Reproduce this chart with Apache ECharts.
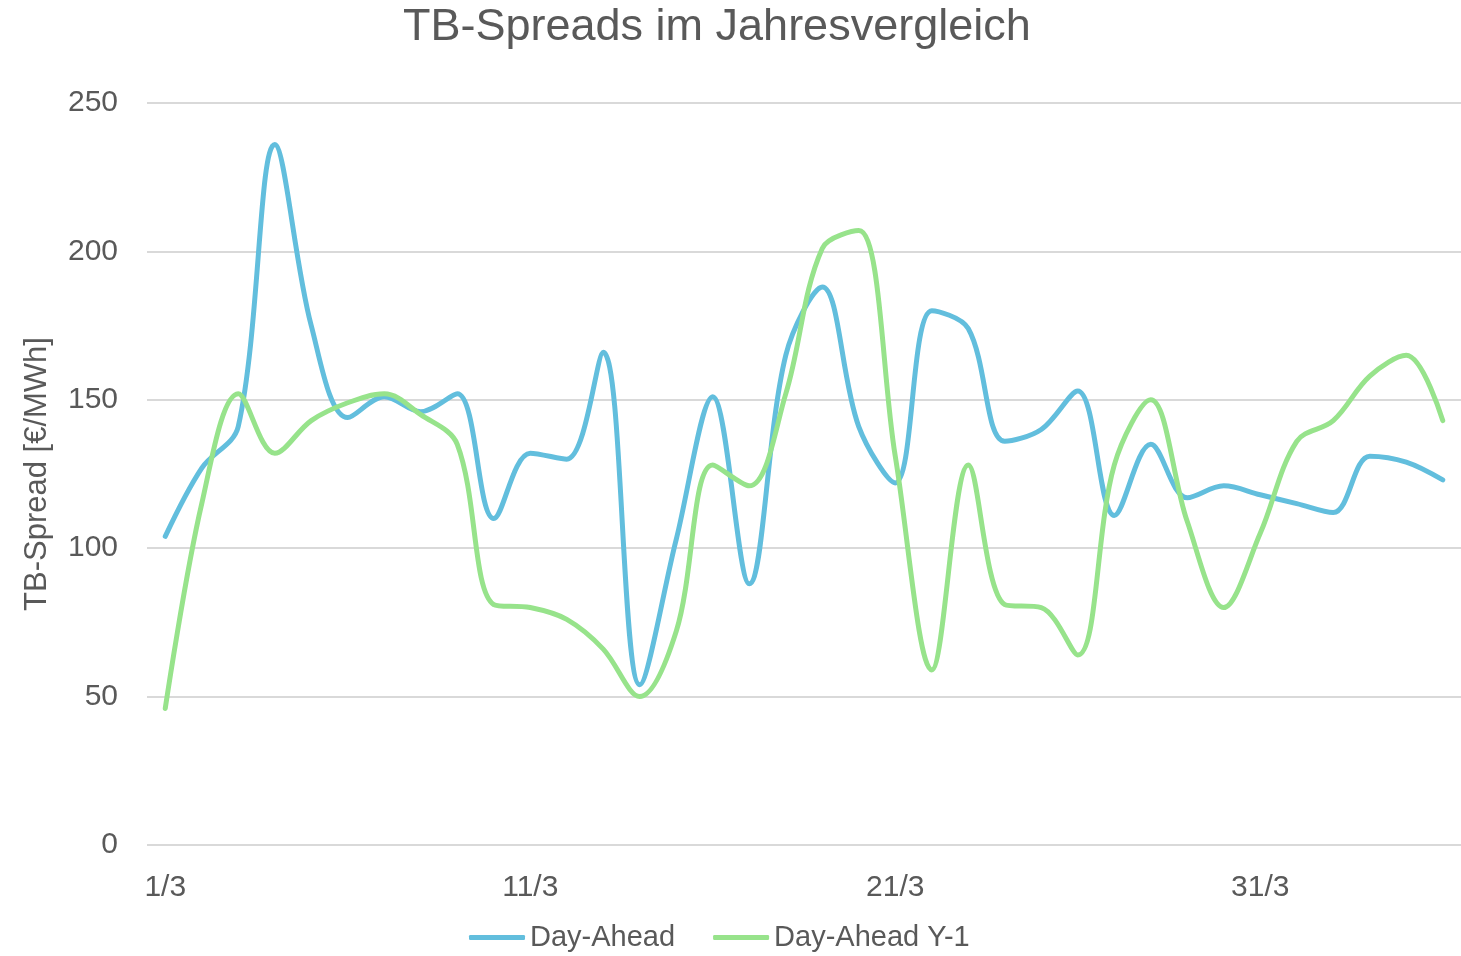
<!DOCTYPE html>
<html>
<head>
<meta charset="utf-8">
<script src="https://cdn.jsdelivr.net/npm/echarts@6/dist/echarts.min.js"></script>
<style>
  html, body { margin: 0; padding: 0; background: #fff; }
  #chart { width: 1461px; height: 956px; }
</style>
</head>
<body>
<div id="chart"></div>
<script>
// Tage 1/3 bis 5/4
var days = ['1/3','2/3','3/3','4/3','5/3','6/3','7/3','8/3','9/3','10/3',
  '11/3','12/3','13/3','14/3','15/3','16/3','17/3','18/3','19/3','20/3',
  '21/3','22/3','23/3','24/3','25/3','26/3','27/3','28/3','29/3','30/3',
  '31/3','1/4','2/4','3/4','4/4','5/4']
var dayAhead = [104, 127, 141, 236, 175, 144, 151, 146, 152, 110,
  132, 130, 166, 54, 103, 151, 88, 165, 188, 141,
  122, 180, 174, 136, 140, 153, 111, 135, 117, 121,
  118, 115, 112, 131, 129, 123]
var dayAheadY1 = [46, 115, 152, 132, 143, 149, 152, 145, 135, 81,
  80, 76, 66, 50, 72, 128, 121, 152, 201, 207,
  131, 59, 128, 81, 80, 64, 128, 150, 109, 80,
  105, 136, 143, 158, 165, 143]
var yTicks = [0, 50, 100, 150, 200, 250]

var textColor = '#595959'
var font = 'Liberation Sans'

var chart = echarts.init(document.getElementById('chart'))
chart.setOption({
  animation: false,
  title: {
    text: 'TB-Spreads im Jahresvergleich',
    left: 398,
    top: 0,
    textStyle: { color: textColor, fontSize: 45, fontWeight: 'normal', fontFamily: font }
  },
  color: ['#62bedd', '#97e38b'],
  legend: {
    top: 918,
    left: 464,
    icon: 'roundRect',
    itemWidth: 56,
    itemHeight: 5,
    itemGap: 38,
    textStyle: { color: textColor, fontSize: 29, fontFamily: font },
    data: ['Day-Ahead', 'Day-Ahead Y-1']
  },
  grid: { left: 147, right: -4, top: 103, bottom: 111 },
  xAxis: {
    type: 'category',
    data: days,
    boundaryGap: true,
    axisLine: { show: false },
    axisTick: { show: false },
    axisLabel: { interval: 9, margin: 28, color: textColor, fontSize: 30, fontFamily: font }
  },
  yAxis: {
    type: 'value',
    min: yTicks[0],
    max: yTicks[yTicks.length - 1],
    interval: 50,
    name: 'TB-Spread [€/MWh]',
    nameLocation: 'middle',
    nameGap: 94,
    nameTextStyle: { color: textColor, fontSize: 31, fontFamily: font },
    axisLine: { show: false },
    axisTick: { show: false },
    axisLabel: { margin: 29, color: textColor, fontSize: 30, fontFamily: font },
    splitLine: { lineStyle: { color: '#d9d9d9', width: 2 } }
  },
  series: [
    {
      name: 'Day-Ahead',
      type: 'line',
      data: dayAhead,
      smooth: 0.35,
      showSymbol: false,
      lineStyle: { width: 5, cap: 'round' }
    },
    {
      name: 'Day-Ahead Y-1',
      type: 'line',
      data: dayAheadY1,
      smooth: 0.35,
      showSymbol: false,
      lineStyle: { width: 5, cap: 'round' }
    }
  ]
})
</script>
</body>
</html>
